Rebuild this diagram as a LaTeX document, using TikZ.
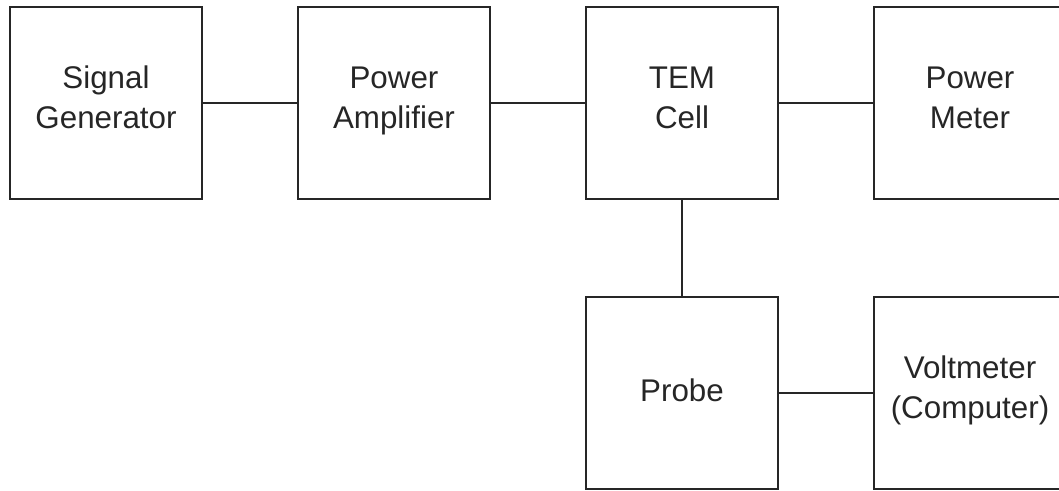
\documentclass[tikz,border=0pt]{standalone}
\usepackage{fontspec}
\setmainfont{Liberation Sans}
\usetikzlibrary{positioning}
\tikzset{
  block/.style={draw=black!85, line width=1.3pt, outer sep=0pt, minimum width=144pt, minimum height=144pt, inner sep=0pt, align=center, font=\fontsize{23.5pt}{30pt}\selectfont, text=black!85, execute at begin node=\rule{0pt}{21pt}, execute at end node=\rule[-8.5pt]{0pt}{8.5pt}},
  link/.style={draw=black!85, line width=1.3pt}
}
\begin{document}
\begin{tikzpicture}[x=0.75pt, y=-0.75pt, node distance=72pt]
  \useasboundingbox (0,0) rectangle (1059,491);
  \node[block] (siggen) at (106,103) {Signal\\Generator};
  \node[block, right=of siggen] (amp) {Power\\Amplifier};
  \node[block, right=of amp] (tem) {TEM\\Cell};
  \node[block, right=of tem] (meter) {Power\\Meter};
  \node[block, below=73.5pt of tem] (probe) {Probe};
  \node[block, right=of probe] (volt) {Voltmeter\\(Computer)};
  \draw[link] (siggen) -- (amp);
  \draw[link] (amp) -- (tem);
  \draw[link] (tem) -- (meter);
  \draw[link] (tem) -- (probe);
  \draw[link] (probe) -- (volt);
\end{tikzpicture}
\end{document}
